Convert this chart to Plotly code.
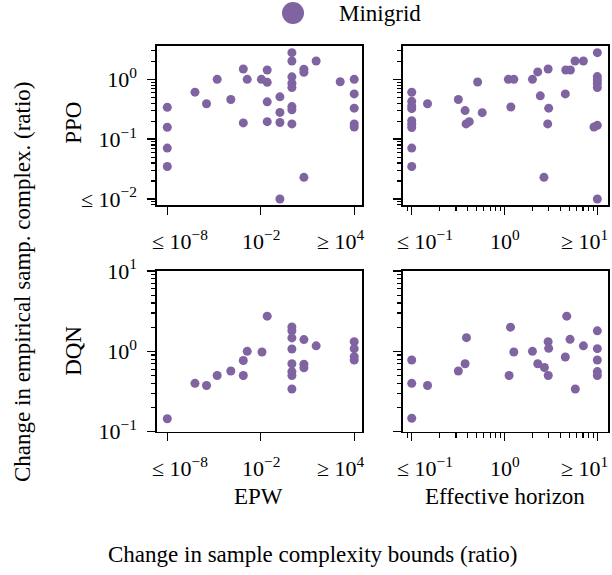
import plotly.graph_objects as go
import numpy as np

W, H = 612, 575
COLOR = "#7f64a1"
FONT = "Liberation Serif"
FS = 22
FS_TITLE = 23

# ---------------- data ----------------
# PPO vs EPW
ppo_epw_x = [1e-8, 1e-8, 1e-8, 1e-8, 6.0e-7, 3.3e-6, 1.6e-5, 1.2e-4, 7.6e-4, 7.6e-4,
             1.35e-3, 1.1e-2, 2.6e-2, 2.6e-2, 2.6e-2, 2.6e-2, 0.17, 0.17, 0.17, 0.17,
             1.0, 1.0, 1.0, 1.0, 1.0, 1.0, 1.0, 1.0, 5.9, 5.9, 5.9, 36, 1260,
             1e4, 1e4, 1e4, 1e4, 1e4]
ppo_epw_y = [0.34, 0.158, 0.071, 0.035, 0.61, 0.39, 1.0, 0.46, 1.49, 0.187,
             1.0, 1.0, 0.89, 1.43, 0.42, 0.196, 0.51, 0.28, 0.19, 0.01,
             2.79, 2.02, 1.1, 0.86, 0.73, 0.35, 0.31, 0.18, 1.47, 1.31, 0.023, 2.02, 0.91,
             1.0, 0.57, 0.33, 0.18, 0.16]

# PPO vs effective horizon
ppo_eh_x = [0.1, 0.1, 0.1, 0.1, 0.1, 0.1, 0.1, 0.1, 0.1,
            0.148, 0.318, 0.376, 0.385, 0.417, 0.513, 0.575,
            1.10, 1.26, 1.17, 2.0, 2.28, 2.43, 2.66,
            2.95, 2.99, 2.92, 4.52, 4.57, 5.13, 5.75, 7.08,
            10, 10, 10, 10, 10, 10, 9.2, 10]
ppo_eh_y = [0.607, 0.429, 0.358, 0.323, 0.204, 0.177, 0.156, 0.071, 0.035,
            0.39, 0.46, 0.30, 0.18, 0.196, 0.90, 0.277,
            1.0, 1.0, 0.345, 1.0, 1.33, 0.53, 0.023,
            1.49, 0.33, 0.18, 0.57, 1.43, 1.43, 2.02, 2.02,
            2.79, 1.11, 0.97, 0.86, 0.73, 0.17, 0.16, 0.01]

# DQN vs EPW
dqn_epw_x = [1e-8, 6.0e-7, 3.3e-6, 1.6e-5, 1.2e-4, 7.6e-4, 7.6e-4, 1.35e-3, 1.2e-2, 2.6e-2,
             1.0, 1.0, 1.0, 1.0, 1.0, 1.0, 1.0, 1.0,
             5.9, 5.9, 5.9, 36, 1e4, 1e4, 1e4, 1e4]
dqn_epw_y = [0.145, 0.40, 0.376, 0.50, 0.57, 0.50, 0.77, 1.0, 0.98, 2.74,
             2.01, 1.8, 1.47, 1.07, 0.70, 0.56, 0.50, 0.34,
             1.40, 0.69, 0.625, 1.17, 1.32, 1.08, 0.86, 0.78]

# DQN vs effective horizon
dqn_eh_x = [0.1, 0.1, 0.1, 0.148, 0.318, 0.376, 0.389, 1.12, 1.16, 1.26,
            2.0, 2.28, 2.69, 2.96, 2.95, 2.99, 4.52, 4.68, 5.08, 5.79, 7.08,
            10, 10, 10, 10, 10]
dqn_eh_y = [0.78, 0.40, 0.147, 0.376, 0.57, 0.70, 1.48, 0.50, 2.0, 0.98,
            1.0, 0.70, 0.63, 0.50, 1.32, 1.09, 0.85, 2.74, 1.41, 0.34, 1.17,
            1.8, 1.08, 0.78, 0.56, 0.50]

epw_ticks = [1e-8, 1e-2, 1e4]
epw_labels = ["≤ 10<sup>−8</sup>", "10<sup>−2</sup>", "≥ 10<sup>4</sup>"]
eh_ticks = [0.1, 1, 10]
eh_labels = ["≤ 10<sup>−1</sup>", "10<sup>0</sup>", "≥ 10<sup>1</sup>"]
ppo_yticks = [0.01, 0.1, 1]
ppo_ylabels = ["≤ 10<sup>−2</sup>", "10<sup>−1</sup>", "10<sup>0</sup>"]
dqn_yticks = [0.1, 1, 10]
dqn_ylabels = ["10<sup>−1</sup>", "10<sup>0</sup>", "10<sup>1</sup>"]

series_name = "Minigrid"
row_names = ["PPO", "DQN"]
col_names = ["EPW", "Effective horizon"]

# ---------------- layout helpers ----------------
def px_x(p):
    return p / W

def px_y(p):
    return 1 - p / H

cols_px = [(157, 362), (403, 608)]
rows_px = [(45.5, 205), (271, 431.7)]
x_ranges = [[-8.66, 4.5], [-1.094, 1.115]]
y_ranges = [[-2.1, 0.565], [-1.0, 1.0]]

def minor_vals(lo, hi):
    out = []
    for e in range(int(np.floor(lo)) - 1, int(np.ceil(hi)) + 1):
        for m in range(2, 10):
            v = m * 10.0 ** e
            if lo <= np.log10(v) <= hi:
                out.append(v)
    return out

fig = go.Figure()

panels = [
    (0, 0, ppo_epw_x, ppo_epw_y),
    (0, 1, ppo_eh_x, ppo_eh_y),
    (1, 0, dqn_epw_x, dqn_epw_y),
    (1, 1, dqn_eh_x, dqn_eh_y),
]

x_tick_sets = [(epw_ticks, epw_labels), (eh_ticks, eh_labels)]
y_tick_sets = [(ppo_yticks, ppo_ylabels), (dqn_yticks, dqn_ylabels)]

annotations = []
axis_font = dict(family=FONT, size=FS, color="black")
title_font = dict(family=FONT, size=FS_TITLE, color="black")

for i, (r, c, xs, ys) in enumerate(panels):
    n = i + 1
    xa = "x" if n == 1 else f"x{n}"
    ya = "y" if n == 1 else f"y{n}"
    fig.add_trace(go.Scatter(
        x=xs, y=ys, mode="markers", xaxis=xa, yaxis=ya,
        marker=dict(color=COLOR, size=9, line=dict(width=0)),
        showlegend=False, name=series_name, cliponaxis=False,
    ))
    xt, xl = x_tick_sets[c]
    yt, yl = y_tick_sets[r]
    xminor = minor_vals(*x_ranges[c]) if c == 1 else []
    yminor = minor_vals(*y_ranges[r])
    xkey = "xaxis" if n == 1 else f"xaxis{n}"
    ykey = "yaxis" if n == 1 else f"yaxis{n}"
    fig.update_layout(**{
        xkey: dict(
            type="log", domain=[px_x(cols_px[c][0]), px_x(cols_px[c][1])],
            range=x_ranges[c], anchor=ya, showgrid=False, zeroline=False,
            automargin=False,
            showline=True, mirror=True, linecolor="black", linewidth=1.6,
            ticks="outside", ticklen=8, tickwidth=1.4, tickcolor="black",
            tickmode="array", tickvals=xt, showticklabels=False,
            minor=dict(ticks="outside", ticklen=4.5, tickwidth=1.1, tickcolor="black",
                       tickmode="array", tickvals=xminor, showgrid=False),
        ),
        ykey: dict(
            type="log", domain=[px_y(rows_px[r][1]), px_y(rows_px[r][0])],
            range=y_ranges[r], anchor=xa, showgrid=False, zeroline=False,
            automargin=False,
            showline=True, mirror=True, linecolor="black", linewidth=1.6,
            ticks="outside", ticklen=8, tickwidth=1.4, tickcolor="black",
            tickmode="array", tickvals=yt, ticktext=yl,
            showticklabels=(c == 0), tickfont=axis_font, ticklabelstandoff=6,
            minor=dict(ticks="outside", ticklen=4.5, tickwidth=1.1, tickcolor="black",
                       tickmode="array", tickvals=yminor, showgrid=False),
        ),
    })
    # x tick labels as annotations (the outer ones are offset inward as in the original)
    shifts = [13, 0, -13]
    for tv, tl, sh in zip(xt, xl, shifts):
        annotations.append(dict(
            x=np.log10(tv), y=0, xref=xa, yref=f"{ya} domain",
            text=tl, showarrow=False, xanchor="center", yanchor="top",
            xshift=sh, yshift=-19, font=axis_font,
        ))

# row titles
for r, name in enumerate(row_names):
    annotations.append(dict(
        x=px_x(73.5), y=px_y((rows_px[r][0] + rows_px[r][1]) / 2 + (-2 if r == 0 else 0)),
        xref="paper", yref="paper", text=name, textangle=-90, showarrow=False,
        xanchor="center", yanchor="middle", font=title_font,
    ))
# column titles
for c, name in enumerate(col_names):
    annotations.append(dict(
        x=px_x((cols_px[c][0] + cols_px[c][1]) / 2 - 1), y=px_y(496),
        xref="paper", yref="paper", text=name, showarrow=False,
        xanchor="center", yanchor="middle", font=title_font,
    ))
# global titles
annotations.append(dict(
    x=px_x(312), y=px_y(554), xref="paper", yref="paper",
    text="Change in sample complexity bounds (ratio)", showarrow=False,
    xanchor="center", yanchor="middle", font=title_font,
))
annotations.append(dict(
    x=px_x(22), y=px_y(282), xref="paper", yref="paper",
    text="Change in empirical samp. complex. (ratio)", textangle=-90, showarrow=False,
    xanchor="center", yanchor="middle", font=title_font,
))
# legend
annotations.append(dict(
    x=px_x(337), y=px_y(13), xref="paper", yref="paper", text=series_name,
    showarrow=False, xanchor="left", yanchor="middle", font=title_font,
))

fig.update_layout(
    template="none",
    width=W, height=H,
    margin=dict(l=0, r=0, t=0, b=0, pad=0, autoexpand=False),
    paper_bgcolor="white", plot_bgcolor="white",
    font=axis_font,
    showlegend=False,
    annotations=annotations,
    shapes=[dict(type="circle", xref="paper", yref="paper",
                 xsizemode="pixel", ysizemode="pixel",
                 xanchor=px_x(293), yanchor=px_y(13),
                 x0=-11, x1=11, y0=-11, y1=11,
                 fillcolor=COLOR, line=dict(width=0))],
)

fig.write_html(
    "out.html",
    config={"displayModeBar": False, "staticPlot": True},
    post_script="document.body.style.margin='0';document.body.style.padding='0';document.body.style.overflow='hidden';",
)
